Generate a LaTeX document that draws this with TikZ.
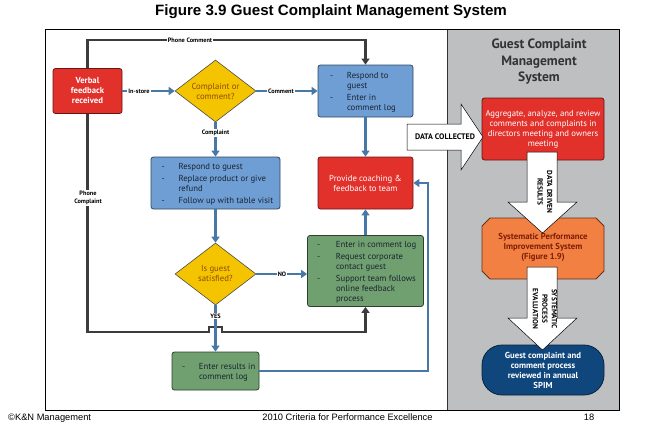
\documentclass[tikz,border=0pt]{standalone}
\usepackage{fontspec}
\usepackage{array}
\usepackage{graphicx}
\setmainfont{PT Sans}
\newfontfamily\arialfont{Liberation Sans}
\usetikzlibrary{shapes.geometric,arrows.meta,positioning}

\definecolor{cred}{HTML}{E2302B}
\definecolor{cyel}{HTML}{F5C400}
\definecolor{cbrown}{HTML}{8A4B0A}
\definecolor{cblue}{HTML}{6E9ED3}
\definecolor{cgreen}{HTML}{70A070}
\definecolor{cflow}{HTML}{4878A6}
\definecolor{cgray}{HTML}{3C3C3C}
\definecolor{cpanel}{HTML}{BEBFC1}
\definecolor{corange}{HTML}{F28043}
\definecolor{crust}{HTML}{7E1C05}
\definecolor{cnavy}{HTML}{0F477D}
\definecolor{cdark}{HTML}{1A2433}

\newcommand{\boxfont}{\fontsize{8.7}{10}\selectfont}
\newcommand{\lblfont}{\fontsize{6.3}{7.3}\selectfont\bfseries}
\newcolumntype{L}[1]{>{\raggedright\arraybackslash}p{#1}}
\setlength{\extrarowheight}{2pt}

\begin{document}
\begin{tikzpicture}[x=1pt,y=-1pt,
    box/.style={rectangle, rounded corners=2.5pt, line width=0.8pt, inner sep=0pt, align=center, font=\boxfont},
    redbox/.style={box, fill=cred, draw=cred!45!black, text=white},
    bluebox/.style={box, fill=cblue, draw=cblue!45!black, text=cdark},
    greenbox/.style={box, fill=cgreen, draw=cgreen!40!black, text=cdark},
    decision/.style={diamond, aspect=1.3, fill=cyel, draw=black!70, line width=0.6pt, inner sep=0pt, align=center, font=\boxfont, text=cbrown, minimum width=81pt, minimum height=62pt},
    flow/.style={draw=cflow, line width=2.6pt, -{Triangle[width=8pt,length=6pt]}},
    grayline/.style={draw=cgray, line width=2.8pt},
    lbl/.style={fill=white, inner sep=1pt, align=center, font=\lblfont},
    bigarrow/.style={draw=black, fill=white, line width=0.5pt},
    arrowtext/.style={rotate=-90, align=center, font=\fontsize{7.3}{9.5}\selectfont\bfseries}]
  \useasboundingbox (0,0) rectangle (660,423);

  % frame and side panel
  \fill[cpanel] (447,29.5) rectangle (619,410);
  \draw[line width=0.6pt, black!80] (447,29.5) -- (447,410);
  \draw[line width=0.8pt] (45,29.5) rectangle (619,410);

  % title and footer
  \node[font=\arialfont\bfseries\fontsize{15}{16}\selectfont] (fig) at (331,12) {\scalebox{1.01}[1]{Figure 3.9 Guest Complaint Management System}};
  \node[anchor=base west, inner sep=0pt, font=\arialfont\fontsize{9.3}{10}\selectfont] (fleft) at (8,420.5) {©K\&N Management};
  \node[anchor=base, inner sep=0pt, font=\arialfont\fontsize{9.3}{10}\selectfont] (fmid) at (347.5,420.5) {2010 Criteria for Performance Excellence};
  \node[anchor=base, inner sep=0pt, font=\arialfont\fontsize{9.3}{10}\selectfont] (fright) at (589,420.5) {18};

  % flow chart boxes
  \node[redbox, minimum width=69pt, minimum height=45pt, font=\boxfont\bfseries] (verbal) at (87.5,91) {Verbal\\feedback\\received};
  \node[decision] (qcc) at (215.5,91) {Complaint or\\comment?};
  \node[bluebox, minimum width=95pt, minimum height=52pt] (rcomm) at (365.5,91) {\hspace*{6pt}\begin{tabular}{@{}p{17pt}@{}L{60pt}@{}}
      - & Respond to guest\\
      - & Enter in comment log
    \end{tabular}};
  \node[redbox, minimum width=95pt, minimum height=52pt] (coach) at (365.5,183) {Provide coaching \&\\feedback to team};
  \node[bluebox, minimum width=129pt, minimum height=52pt] (rcomp) at (215.5,183) {\hspace*{5pt}\begin{tabular}{@{}p{17pt}@{}L{96pt}@{}}
      - & Respond to guest\\
      - & Replace product or give refund\\
      - & Follow up with table visit
    \end{tabular}};
  \node[decision] (qsat) at (215.5,274) {Is guest\\satisfied?};
  \node[greenbox, minimum width=116pt, minimum height=71pt] (escal) at (365.5,271) {\hspace*{8pt}\begin{tabular}{@{}p{19pt}@{}L{86pt}@{}}
      - & Enter in comment log\\
      - & Request corporate contact guest\\
      - & Support team follows online feedback process
    \end{tabular}};
  \node[greenbox, minimum width=87pt, minimum height=38pt] (results) at (215.5,371) {\hspace*{10pt}\begin{tabular}{@{}p{17pt}@{}L{60pt}@{}}
      - & Enter results in comment log
    \end{tabular}};

  % phone lines
  \coordinate (pctop) at (365.5,40);
  \coordinate (pcbot) at (365.5,332);
  \draw[grayline, -{Triangle[width=8pt,length=6pt]}] (verbal.north) |- (pctop) -- (rcomm.north);
  \draw[grayline, -{Triangle[width=8pt,length=6pt]}] (verbal.south) -- (verbal.south |- pcbot) -- (209,332) -- (209,327) -- (222,327) -- (222,332) -- (pcbot) -- (escal.south);

  % flow arrows
  \coordinate (fbk) at (428,300);
  \draw[flow] (verbal.east) -- (qcc.west);
  \draw[flow] (qcc.east) -- (rcomm.west);
  \draw[flow] (qcc.south) -- (rcomp.north);
  \draw[flow] (rcomm.south) -- (coach.north);
  \draw[flow] (rcomp.south) -- (qsat.north);
  \draw[flow] (qsat.east) -- (qsat.east -| escal.west);
  \draw[flow] (escal.north) -- (coach.south);
  \draw[flow] (qsat.south) -- (results.north);
  \draw[flow] (results.east) -| (fbk) |- (coach.east);

  % labels on the lines
  \node[lbl] (pcm) at (190,40) {Phone Comment};
  \node[lbl] (pcp) at (88,198) {Phone\\Complaint};
  \node[lbl] (instore) at (139,91) {In-store};
  \node[lbl] (cmt) at (281,91) {Comment};
  \node[lbl] (cpl) at (215.5,133) {Complaint};
  \node[lbl] (no) at (282,274) {NO};
  \node[lbl] (yes) at (215.5,316) {YES};

  % side panel
  \node[font=\fontsize{13.5}{16.5}\selectfont\bfseries, text=black!80, align=center] (gtitle) at (539,62) {Guest Complaint\\Management\\System};
  \node[box, fill=cred, draw=cred!45!black, text=white, minimum width=122pt, minimum height=62pt] (agg) at (543,129) {Aggregate, analyze, and review\\comments and complaints in\\directors meeting and owners\\meeting};
  \filldraw[fill=corange, draw=corange!40!black, line width=0.8pt] (490,218) -- (596,218) -- (604,226) -- (604,271) -- (596,279) -- (490,279) -- (482,271) -- (482,226) -- cycle;
  \node[align=center, font=\boxfont\bfseries, text=crust] (spis) at (543,247.5) {Systematic Performance\\Improvement System\\(Figure 1.9)};
  \node[rectangle, rounded corners=20pt, fill=cnavy, draw=cnavy!50!black, line width=0.8pt, inner sep=0pt, minimum width=122pt, minimum height=50pt, align=center, font=\boxfont\bfseries, text=white] (spim) at (543,370) {Guest complaint and\\comment process\\reviewed in annual\\SPIM};

  % block arrows
  \draw[bigarrow] (407,124) -- (461,124) -- (461,104) -- (483,137) -- (461,170) -- (461,150) -- (407,150) -- cycle;
  \node[font=\fontsize{8}{9}\selectfont\bfseries] (dcol) at (445,137) {DATA COLLECTED};
  \draw[bigarrow] (527,152) -- (557,152) -- (557,202) -- (577,202) -- (542.5,233) -- (508,202) -- (527,202) -- cycle;
  \node[arrowtext] (ddr) at (545,192) {DATA DRIVEN\\RESULTS};
  \draw[bigarrow] (527,267) -- (557,267) -- (557,318) -- (577,318) -- (542.5,350) -- (508,318) -- (527,318) -- cycle;
  \node[arrowtext] (spe) at (545,309) {SYSTEMATIC\\PROCESS\\EVALUATION};
\end{tikzpicture}
\end{document}
